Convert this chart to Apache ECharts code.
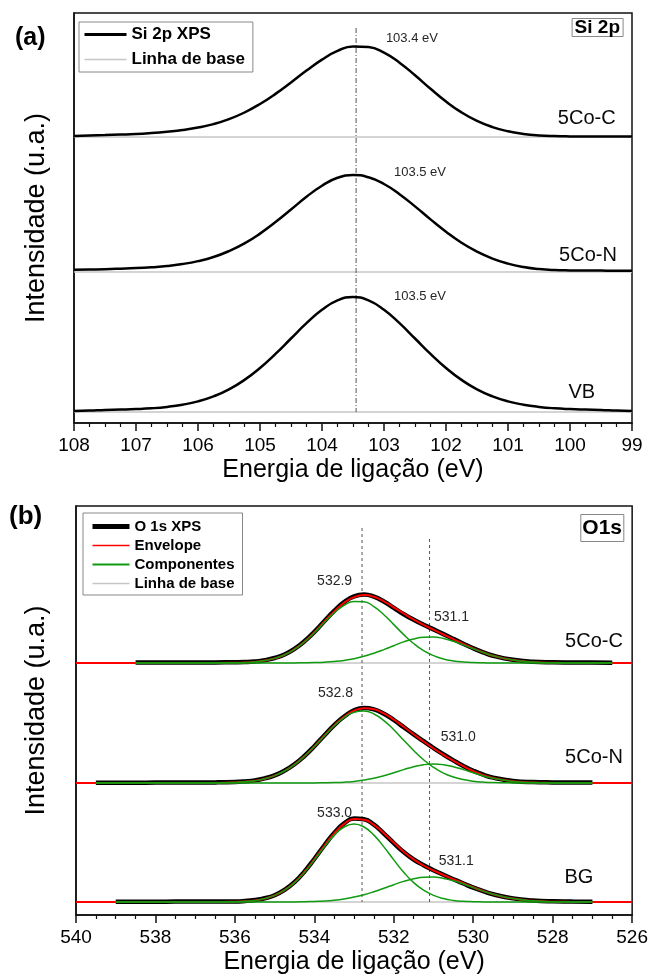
<!DOCTYPE html>
<html>
<head>
<meta charset="utf-8">
<script src="https://cdn.jsdelivr.net/npm/echarts@6/dist/echarts.min.js"></script>
<style>
  html, body { margin: 0; padding: 0; background: #fff; }
  #chart { width: 651px; height: 978px; }
</style>
</head>
<body>
<div id="chart"></div>
<script>
// ---------- Si 2p spectra (intensity above each sample's own baseline, a.u.) ----------
const energySi = [108, 107.75, 107.5, 107.25, 107, 106.75, 106.5, 106.25, 106, 105.75, 105.5, 105.25,
  105, 104.75, 104.5, 104.25, 104, 103.75, 103.5, 103.25, 103, 102.75, 102.5, 102.25, 102, 101.75,
  101.5, 101.25, 101, 100.75, 100.5, 100.25, 100, 99.75, 99.5, 99.25, 99];
const si5CoC = [1.0, 1.5, 1.9, 2.4, 3.0, 4.0, 5.3, 6.9, 9.4, 12.9, 17.9, 24.5, 33.0, 43.1, 54.5, 66.4,
  77.4, 86.1, 90.6, 90.0, 84.3, 74.3, 61.7, 48.2, 35.5, 24.6, 16.1, 9.9, 5.7, 3.1, 1.6, 0.9, 0.6, 0.5,
  0.5, 0.5, 0.5];
const si5CoN = [2.2, 2.5, 2.8, 3.3, 3.9, 4.8, 6.0, 8.0, 10.9, 15.0, 20.9, 28.6, 38.4, 49.9, 62.5, 75.2,
  86.3, 94.2, 97.0, 94.7, 88.0, 77.8, 65.6, 52.6, 40.2, 29.2, 20.3, 13.4, 8.4, 5.0, 2.9, 1.9, 1.6, 1.5,
  1.4, 1.3, 1.3];
const siVB = [1.0, 1.4, 2.0, 2.4, 2.9, 3.7, 5.1, 7.3, 10.6, 15.6, 22.6, 32.1, 44.0, 58.1, 73.5, 88.8,
  102.2, 111.6, 115.0, 111.6, 102.2, 88.8, 73.5, 58.1, 44.0, 32.1, 22.6, 15.6, 10.6, 7.3, 5.1, 3.7, 2.9,
  2.4, 2.0, 1.4, 1.0];
const siSampleNames = ['5Co-C', '5Co-N', 'VB'];
const siPeakText = ['103.4 eV', '103.5 eV', '103.5 eV'];
const siTicks = [108, 107, 106, 105, 104, 103, 102, 101, 100, 99];

// ---------- O 1s spectra: measured data and the two fitted components ----------
const energyO = [540, 539.5, 539, 538.5, 538, 537.5, 537, 536.5, 536, 535.75, 535.5, 535.25, 535,
  534.75, 534.5, 534.25, 534, 533.75, 533.5, 533.25, 533, 532.75, 532.5, 532.25, 532, 531.75, 531.5,
  531.25, 531, 530.75, 530.5, 530.25, 530, 529.75, 529.5, 529, 528.5, 528, 527.5, 527, 526.5, 526];

const o5CoCData = [null, null, null, 0.4, 0.4, 0.5, 0.5, 0.6, 0.7, 0.9, 1.5, 2.8, 5.0, 8.5, 14.1, 21.7,
  31.1, 41.8, 52.2, 60.9, 66.6, 68.5, 66.4, 61.5, 55.1, 48.8, 43.2, 38.2, 33.6, 28.9, 24.1, 19.3, 14.7,
  10.7, 7.3, 3.2, 1.3, 0.7, 0.5, 0.4, 0.3, null];
const o5CoCComp1 = [null, null, null, 0, 0, 0, 0, 0, 0.2, 0.5, 1.1, 2.4, 4.6, 8.2, 13.7, 21.1, 30.3,
  40.5, 50.1, 57.7, 61.6, 61.2, 56.4, 48.3, 38.4, 28.4, 19.5, 12.4, 7.4, 4.0, 2.1, 1.0, 0.4, 0.2, 0, 0,
  0, 0, 0, 0, 0, null];
const o5CoCComp2 = [null, null, null, 0, 0, 0, 0, 0, 0, 0, 0, 0, 0, 0, 0.1, 0.2, 0.4, 0.8, 1.5, 2.6,
  4.3, 6.7, 9.8, 13.4, 17.3, 21.1, 24.0, 25.7, 25.9, 24.5, 21.7, 18.1, 14.2, 10.5, 7.2, 2.9, 0.9, 0.2,
  0, 0, 0, null];

const o5CoNData = [null, 0.3, 0.3, 0.3, 0.4, 0.4, 0.5, 0.6, 1.0, 1.6, 2.6, 4.6, 7.6, 12.4, 18.8, 27.0,
  36.8, 47.5, 57.9, 66.5, 72.7, 75.0, 73.6, 69.2, 63.0, 55.8, 48.7, 41.8, 35.0, 28.6, 22.6, 17.0, 12.2,
  8.3, 5.4, 2.1, 0.9, 0.6, 0.5, 0.4, null, null];
const o5CoNComp1 = [null, 0, 0, 0, 0, 0, 0, 0.1, 0.6, 1.2, 2.3, 4.2, 7.4, 12.0, 18.4, 26.7, 36.5, 47.1,
  57.2, 65.4, 70.7, 71.9, 69.0, 62.4, 53.3, 42.8, 32.5, 23.2, 15.6, 9.9, 6.0, 3.4, 1.8, 0.9, 0.4, 0.1,
  0, 0, 0, 0, null, null];
const o5CoNComp2 = [null, 0, 0, 0, 0, 0, 0, 0, 0, 0, 0, 0, 0, 0, 0, 0, 0.1, 0.2, 0.4, 0.8, 1.6, 2.9,
  4.7, 7.2, 10.2, 13.4, 16.3, 18.3, 19.0, 18.3, 16.3, 13.4, 10.2, 7.2, 4.7, 1.6, 0.4, 0.1, 0, 0, null,
  null];

const oBGData = [null, null, 0.3, 0.3, 0.3, 0.4, 0.5, 0.6, 0.6, 1.0, 1.9, 3.7, 6.8, 12.1, 19.8, 30.4,
  43.0, 56.5, 69.0, 78.6, 83.4, 82.7, 77.3, 68.4, 58.9, 49.9, 42.5, 36.8, 31.8, 27.2, 22.8, 18.5, 14.4,
  10.8, 7.7, 3.6, 1.5, 0.7, 0.5, 0.3, null, null];
const oBGComp1 = [null, null, 0, 0, 0, 0, 0, 0, 0.3, 0.7, 1.6, 3.4, 6.6, 11.8, 19.4, 29.7, 42.1, 55.1,
  66.9, 75.0, 78.0, 75.0, 66.9, 55.1, 42.1, 29.7, 19.4, 11.8, 6.6, 3.4, 1.6, 0.7, 0.3, 0.1, 0, 0, 0, 0,
  0, 0, null, null];
const oBGComp2 = [null, null, 0, 0, 0, 0, 0, 0, 0, 0, 0, 0, 0, 0, 0.1, 0.3, 0.6, 1.0, 1.8, 3.1, 4.9,
  7.3, 10.3, 13.7, 17.3, 20.6, 23.2, 24.7, 24.9, 23.6, 21.2, 18.0, 14.4, 10.9, 7.8, 3.4, 1.2, 0.3, 0.1,
  0, null, null];

const oSampleNames = ['5Co-C', '5Co-N', 'BG'];
const oPeakText = [['532.9', '531.1'], ['532.8', '531.0'], ['533.0', '531.1']];
const oTicks = [540, 538, 536, 534, 532, 530, 528, 526];

// reference energies marked with vertical guides
const siGuide = 103.45;
const oGuides = [532.8, 531.1];

// ---------- layout ----------
const FONT = '"Liberation Sans", Arial, Helvetica, sans-serif';
const siStack = [286, 151, 11];      // vertical offsets of the stacked Si 2p traces
const oStack = [252, 132, 13];       // vertical offsets of the stacked O 1s traces
const siLabelPos = [[102.55, 385], [102.42, 251], [102.42, 127]];
const siNamePos = [[99.73, 305], [99.71, 168], [99.81, 31]];
const oLabelPos = [[[533.49, 334], [530.55, 298]], [[533.47, 222], [530.38, 178]], [[533.49, 102], [530.43, 54]]];
const oNamePos = [[526.96, 274], [526.96, 158], [527.34, 38]];

const GRAY = '#c6c6c6';
const GREEN = '#109a10';
const RED = '#ff0000';

const chart = echarts.init(document.getElementById('chart'), null, { renderer: 'canvas' });

function pairs(xs, ys, off) {
  const out = [];
  for (let k = 0; k < xs.length; k++) {
    if (ys[k] !== null && ys[k] !== undefined) out.push([xs[k], ys[k] + off]);
  }
  return out;
}

function lineSeries(name, idx, data, color, width, extra) {
  return Object.assign({
    name: name, type: 'line', xAxisIndex: idx, yAxisIndex: idx,
    data: data, symbol: 'none', smooth: 0.5, silent: true,
    lineStyle: { color: color, width: width },
    itemStyle: { color: color }
  }, extra || {});
}

function textSeries(idx, items, size, color) {
  return {
    type: 'scatter', xAxisIndex: idx, yAxisIndex: idx, symbol: 'rect', symbolSize: 1,
    itemStyle: { color: 'rgba(0,0,0,0)', opacity: 1 }, silent: true, z: 10,
    label: { show: true, position: 'inside', fontSize: size, color: color, fontFamily: FONT },
    data: items.map(t => ({ value: [t[0], t[1]], label: { formatter: t[2], color: color } }))
  };
}

const series = [];

// --- panel (a): Si 2p ---
const siCurves = [si5CoC, si5CoN, siVB];
siCurves.forEach((c, i) => {
  series.push(lineSeries('Linha de base', 0, [[energySi[0], siStack[i]], [energySi[energySi.length - 1], siStack[i]]], GRAY, 1.5, { smooth: false }));
});
series.push(lineSeries('guide-a', 0, [[siGuide, 395], [siGuide, siStack[2]]], '#555', 1,
  { smooth: false, lineStyle: { color: '#555', width: 1, type: [5, 2, 1, 2] } }));
siCurves.forEach((c, i) => {
  series.push(lineSeries('Si 2p XPS', 0, pairs(energySi, c, siStack[i]), '#000', 2.5));
});
series.push(textSeries(0, siPeakText.map((t, i) => [siLabelPos[i][0], siLabelPos[i][1], t]), 13, '#262626'));
series.push(textSeries(0, siSampleNames.map((t, i) => [siNamePos[i][0], siNamePos[i][1], t]), 20, '#0a0a0a'));

// --- panel (b): O 1s ---
const oData = [o5CoCData, o5CoNData, oBGData];
const oComp1 = [o5CoCComp1, o5CoNComp1, oBGComp1];
const oComp2 = [o5CoCComp2, o5CoNComp2, oBGComp2];

oData.forEach((d, i) => {
  series.push(lineSeries('Linha de base', 1, [[energyO[0], oStack[i]], [energyO[energyO.length - 1], oStack[i]]], GRAY, 1.5, { smooth: false }));
});
series.push(lineSeries('guide-b1', 1, [[oGuides[0], 387], [oGuides[0], oStack[2]]], '#555', 1,
  { smooth: false, lineStyle: { color: '#555', width: 1, type: [3, 3] } }));
series.push(lineSeries('guide-b2', 1, [[oGuides[1], 376], [oGuides[1], oStack[2]]], '#555', 1,
  { smooth: false, lineStyle: { color: '#555', width: 1, type: [3, 3] } }));
oData.forEach((d, i) => {
  series.push(lineSeries('O 1s XPS', 1, pairs(energyO, d, oStack[i]), '#000', 4.5));
});
oData.forEach((d, i) => {
  // fit envelope: sum of the two components over the full energy window
  const env = energyO.map((e, k) => [e, oStack[i] + (oComp1[i][k] || 0) + (oComp2[i][k] || 0)]);
  series.push(lineSeries('Envelope', 1, env, RED, 2));
});
oData.forEach((d, i) => {
  series.push(lineSeries('Componentes', 1, pairs(energyO, oComp1[i], oStack[i]), GREEN, 1.5));
  series.push(lineSeries('Componentes', 1, pairs(energyO, oComp2[i], oStack[i]), GREEN, 1.5));
});
const oLabelItems = [];
oPeakText.forEach((pair, i) => {
  pair.forEach((t, j) => oLabelItems.push([oLabelPos[i][j][0], oLabelPos[i][j][1], t]));
});
series.push(textSeries(1, oLabelItems, 14, '#262626'));
series.push(textSeries(1, oSampleNames.map((t, i) => [oNamePos[i][0], oNamePos[i][1], t]), 20, '#0a0a0a'));

function xAxisCfg(idx, min, max, interval) {
  return {
    type: 'value', gridIndex: idx, min: min, max: max, interval: interval, inverse: true,
    name: 'Energia de ligação (eV)', nameLocation: 'middle', nameGap: 35,
    nameTextStyle: { fontSize: 25, color: '#000', fontFamily: FONT },
    axisLine: { show: true, onZero: false, lineStyle: { color: '#111', width: 1.5 } },
    axisTick: { show: true, inside: false, length: 8, lineStyle: { color: '#111', width: 1.5 } },
    minorTick: { show: true, splitNumber: 4, length: 4, lineStyle: { color: '#111', width: 1.2 } },
    axisLabel: { show: true, margin: 13, fontSize: 19, color: '#000', fontFamily: FONT, showMinLabel: true, showMaxLabel: true },
    splitLine: { show: false }, minorSplitLine: { show: false }
  };
}

function yAxisCfg(idx, max, gap) {
  return {
    type: 'value', gridIndex: idx, min: 0, max: max,
    name: 'Intensidade (u.a.)', nameLocation: 'middle', nameGap: gap,
    nameTextStyle: { fontSize: 27, color: '#000', fontFamily: FONT },
    axisLine: { show: true, lineStyle: { color: '#111', width: 1.5 } },
    axisTick: { show: false }, axisLabel: { show: false }, splitLine: { show: false }
  };
}

const legendIconStyle = { color: 'rgba(0,0,0,0)', borderColor: 'rgba(0,0,0,0)', borderWidth: 0 };

const option = {
  animation: false,
  backgroundColor: '#fff',
  textStyle: { fontFamily: FONT },
  title: [
    { text: '(a)', left: 15, top: 26, padding: 0, textStyle: { fontSize: 25, fontWeight: 'bold', color: '#000', fontFamily: FONT } },
    { text: '(b)', left: 9, top: 504, padding: 0, textStyle: { fontSize: 26, fontWeight: 'bold', color: '#000', fontFamily: FONT } },
    { text: 'Si 2p', right: 28, top: 18, padding: [0, 3], borderColor: '#888', borderWidth: 1,
      textStyle: { fontSize: 19, fontWeight: 'bold', color: '#000', lineHeight: 19, fontFamily: FONT } },
    { text: 'O1s', right: 27, top: 514, padding: [4, 2, 3, 2], borderColor: '#888', borderWidth: 1,
      textStyle: { fontSize: 21, fontWeight: 'bold', color: '#000', lineHeight: 21, fontFamily: FONT } }
  ],
  legend: [
    { data: [
        { name: 'Si 2p XPS', lineStyle: { color: '#000', width: 3 } },
        { name: 'Linha de base', lineStyle: { color: GRAY, width: 1.5 } }
      ],
      orient: 'vertical', left: 79, top: 22,
      padding: [4, 8, 4, 4], itemGap: 8, itemWidth: 42, itemHeight: 14,
      borderColor: '#888', borderWidth: 1, selectedMode: false, itemStyle: legendIconStyle,
      textStyle: { fontSize: 17, fontWeight: 'bold', color: '#000', fontFamily: FONT } },
    { data: [
        { name: 'O 1s XPS', lineStyle: { color: '#000', width: 5 } },
        { name: 'Envelope', lineStyle: { color: RED, width: 1.5 } },
        { name: 'Componentes', lineStyle: { color: GREEN, width: 2 } },
        { name: 'Linha de base', lineStyle: { color: GRAY, width: 1.5 } }
      ],
      orient: 'vertical', left: 83, top: 513,
      padding: [6, 8, 4, 7], itemGap: 4, itemWidth: 37, itemHeight: 14,
      borderColor: '#888', borderWidth: 1, selectedMode: false, itemStyle: legendIconStyle,
      textStyle: { fontSize: 15, fontWeight: 'bold', color: '#000', fontFamily: FONT } }
  ],
  grid: [
    { left: 74, top: 13, width: 558, height: 410, show: true, borderColor: '#111', borderWidth: 1.5, backgroundColor: 'transparent' },
    { left: 76, top: 506, width: 557, height: 409, show: true, borderColor: '#111', borderWidth: 1.5, backgroundColor: 'transparent' }
  ],
  xAxis: [xAxisCfg(0, siTicks[siTicks.length - 1], siTicks[0], 1), xAxisCfg(1, oTicks[oTicks.length - 1], oTicks[0], 2)],
  yAxis: [yAxisCfg(0, 410, 24), yAxisCfg(1, 409, 26)],
  series: series
};

chart.setOption(option);
</script>
</body>
</html>
